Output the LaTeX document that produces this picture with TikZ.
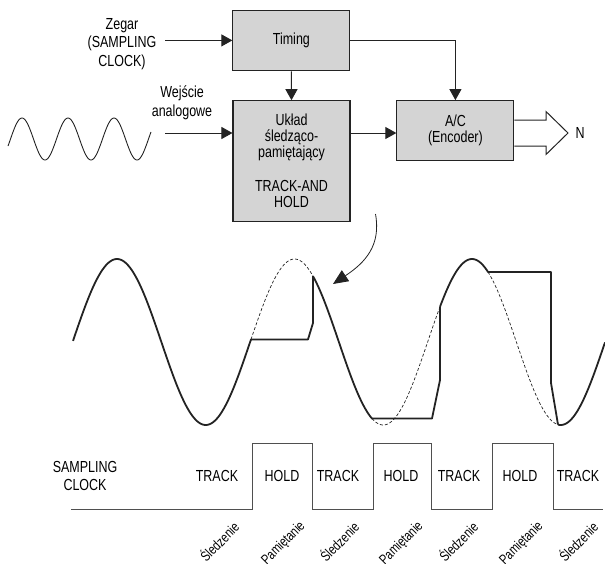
\documentclass[tikz,border=0pt]{standalone}
\usepackage{fontspec}
\setmainfont[FakeStretch=0.78]{Liberation Sans}
\usetikzlibrary{arrows.meta,calc}
\definecolor{boxgray}{RGB}{212,212,212}
\definecolor{ink}{RGB}{35,35,35}
\begin{document}
\begin{tikzpicture}[x=1pt,y=-1pt,
  blk/.style={draw=ink, line width=1.1pt, fill=boxgray, minimum width=117pt, inner sep=0pt, align=center, font=\fontsize{16}{16}\selectfont},
  conn/.style={draw=ink, line width=1pt, -{Triangle[length=11pt,width=12pt]}},
  lbl/.style={align=center, font=\fontsize{16}{18.5}\selectfont, inner sep=0pt},
  wavy/.style={line width=1.8pt, draw=ink, line join=round},
  dsh/.style={line width=0.7pt, draw=ink, dash pattern=on 3pt off 2pt},
  clk/.style={line width=0.9pt, draw=ink!80},
  rotlbl/.style={rotate=45, anchor=east, font=\fontsize{14}{14}\selectfont, inner sep=0pt}]
\useasboundingbox (0,0) rectangle (605,563);

% blocks
\node[blk, minimum height=60.7pt] (timing) at (291.4,40.4) {Timing};
\node[blk, minimum height=120.3pt] (th) at (291.5,160.9) {Układ\\śledząco-\\pamiętający\\[18pt]TRACK-AND\\HOLD};
\node[blk, minimum height=60pt] (ac) at (455.4,130.7) {A/C\\(Encoder)};

% input labels
\node[lbl] (zegar) at (122,44) {Zegar\\(SAMPLING\\CLOCK)};
\node[lbl] (wej) at (182,103) {Wejście\\analogowe};
\coordinate (clkin) at (165,40.4);
\coordinate (anin) at (165,133);

% connectors
\draw[conn] (clkin) -- (timing.west);
\draw[conn] (anin) -- (anin -| th.west);
\draw[conn] (timing.south) -- (th.north);
\draw[conn] (timing.east) -| (ac.north);
\draw[conn] (anin -| th.east) -- (anin -| ac.west);

% wide output arrow
\draw[line width=1pt, draw=ink, line join=miter] (ac.east |- 0,120) -- (546,120) -- (546,111.5) -- (568,133) -- (546,154.5) -- (546,146) -- (ac.east |- 0,146);
\node[lbl] (n) at (580,133) {N};

% small input sine
\draw[line width=0.9pt, draw=ink] plot[domain=8:151, samples=150, smooth] (\x, {139 - 21*sin((\x-10.5)/46*360)});

% curved arrow
\coordinate (cs) at (375.5,214);
\coordinate (ct) at (333,284);
\draw[line width=0.8pt, draw=ink, -{Triangle[length=15pt,width=13pt]}] (cs) .. controls (381,245) and (366,262) .. (ct);

% big waveform: solid parts
\draw[wavy] plot[domain=73:251, samples=120, smooth] (\x, {342 - 83*cos((\x-117)/177.5*360)})
  -- (308,339.4) -- (313,323) -- (313,276.2);
\draw[wavy] plot[domain=313:372, samples=50, smooth] (\x, {342 - 83*cos((\x-117)/177.5*360)})
  -- (432,418.5) -- (440,380) -- (440,306.8);
\draw[wavy] plot[domain=440:488, samples=40, smooth] (\x, {342 - 83*cos((\x-117)/177.5*360)})
  -- (551,272) -- (551,383) -- (558,424.6);
\draw[wavy] plot[domain=558:605, samples=40, smooth] (\x, {342 - 83*cos((\x-117)/177.5*360)});
% dashed original
\draw[dsh] plot[domain=251:313, samples=50, smooth] (\x, {342 - 83*cos((\x-117)/177.5*360)});
\draw[dsh] plot[domain=372:440, samples=50, smooth] (\x, {342 - 83*cos((\x-117)/177.5*360)});
\draw[dsh] plot[domain=488:558, samples=50, smooth] (\x, {342 - 83*cos((\x-117)/177.5*360)});

% sampling clock
\draw[clk] (71,509) -- (252,509) -- (252,443) -- (312,443) -- (312,509) -- (373,509) -- (373,443) -- (431,443) -- (431,509) -- (492,509) -- (492,443) -- (553,443) -- (553,509) -- (603,509);
\node[lbl] (sc) at (85,476) {SAMPLING\\CLOCK};
\node[lbl] (t1) at (217,476) {TRACK};
\node[lbl] (h1) at (282,476) {HOLD};
\node[lbl] (t2) at (338,476) {TRACK};
\node[lbl] (h2) at (401,476) {HOLD};
\node[lbl] (t3) at (459,476) {TRACK};
\node[lbl] (h3) at (520,476) {HOLD};
\node[lbl] (t4) at (578,476) {TRACK};

\node[rotlbl] (s1) at (236,524) {Śledzenie};
\node[rotlbl] (p1) at (303,524) {Pamiętanie};
\node[rotlbl] (s2) at (356,524) {Śledzenie};
\node[rotlbl] (p2) at (421,524) {Pamiętanie};
\node[rotlbl] (s3) at (475,524) {Śledzenie};
\node[rotlbl] (p3) at (541,524) {Pamiętanie};
\node[rotlbl] (s4) at (595,524) {Śledzenie};
\end{tikzpicture}
\end{document}
